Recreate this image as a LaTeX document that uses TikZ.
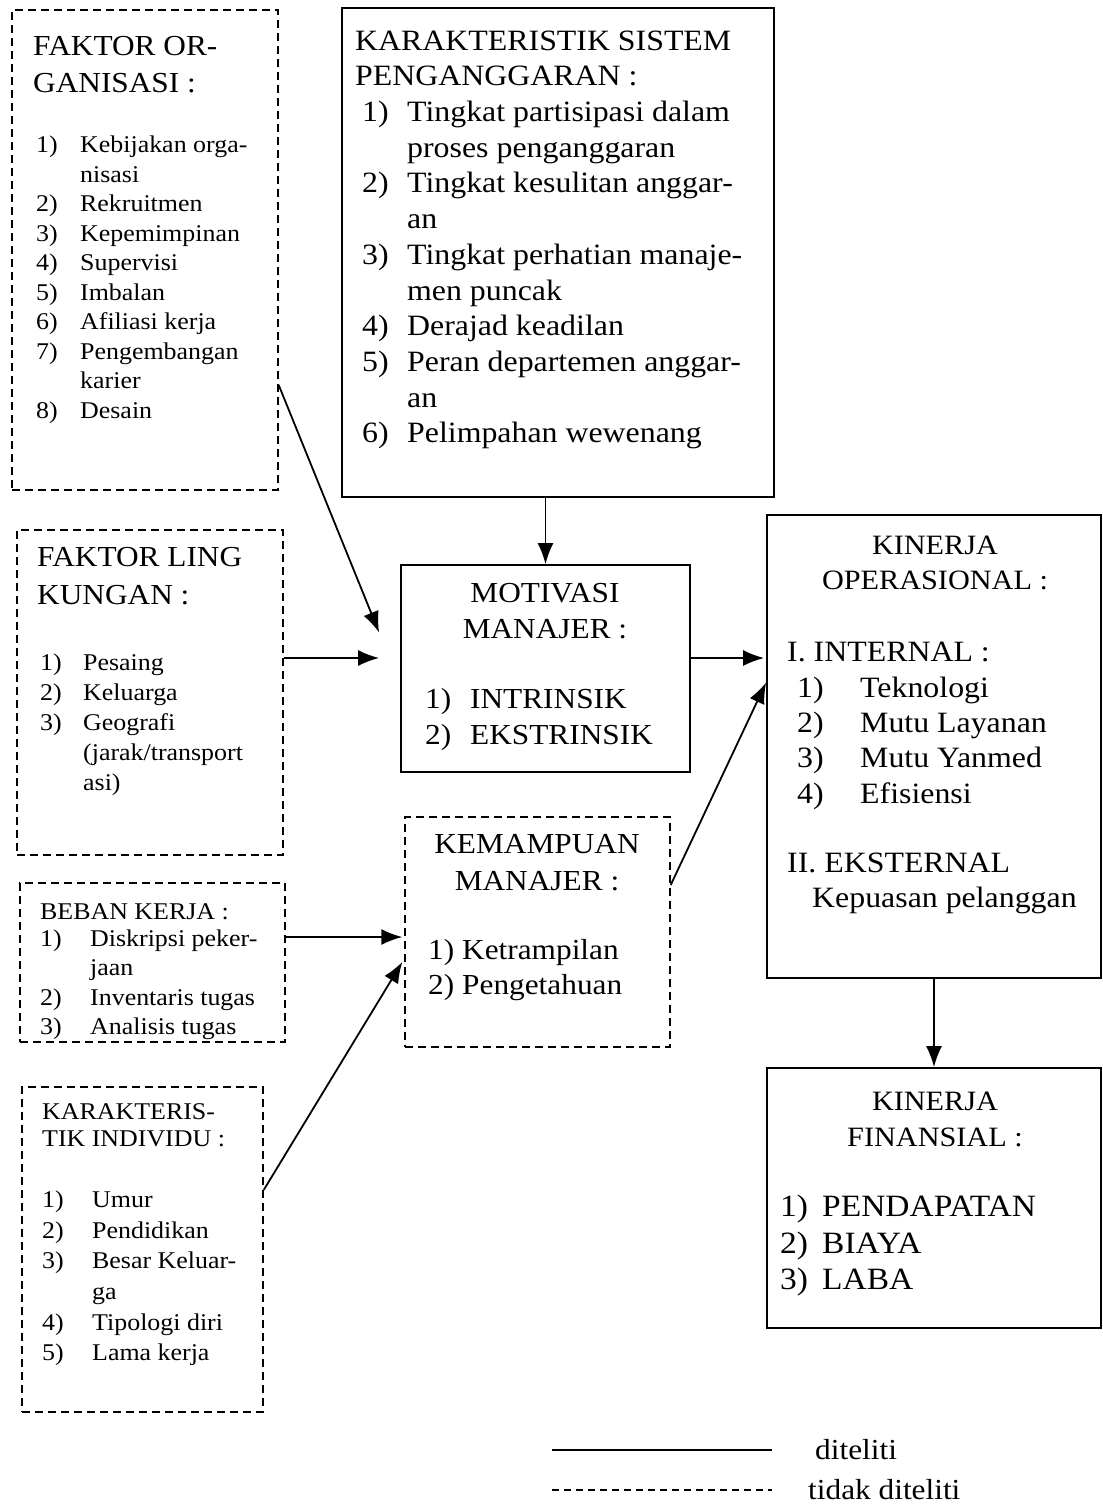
\documentclass[tikz,border=0pt]{standalone}
\usepackage{fontspec}
\setmainfont[FakeStretch=1.08]{Liberation Serif}
\usetikzlibrary{arrows.meta,calc}
\newcommand\bigf{\fontsize{29}{36}\selectfont}
\newcommand\smallf{\fontsize{24}{29.5}\selectfont}
\newcommand\nb[2]{\makebox[#1][l]{#2}}
\tikzset{
  solidbox/.style={draw, line width=1.8pt, rectangle, inner sep=0pt},
  dashbox/.style={draw, line width=1.4pt, dash pattern=on 8pt off 5pt, rectangle, inner sep=0pt},
  txt/.style={anchor=north west, inner sep=0pt, align=left},
  ctxt/.style={anchor=north, inner sep=0pt, align=center},
  arr/.style={line width=1.8pt, -{Latex[length=21pt,width=16pt]}}
}
\begin{document}
\begin{tikzpicture}[x=1pt,y=-1pt]
\useasboundingbox (0,0) rectangle (1103,1508);
% boxes
\node[dashbox, minimum width=266pt, minimum height=480pt] (org) at (145,250) {};
\node[dashbox, minimum width=266pt, minimum height=325pt] (ling) at (150,692.5) {};
\node[dashbox, minimum width=265pt, minimum height=159pt] (beban) at (152.5,962.5) {};
\node[dashbox, minimum width=241pt, minimum height=325pt] (indiv) at (142.5,1249.5) {};
\node[solidbox, minimum width=432pt, minimum height=489pt] (sys) at (558,252.5) {};
\node[solidbox, minimum width=289pt, minimum height=207pt] (mot) at (545.5,668.5) {};
\node[dashbox, minimum width=265pt, minimum height=230pt] (kem) at (537.5,932) {};
\node[solidbox, minimum width=334pt, minimum height=463pt] (op) at (934,746.5) {};
\node[solidbox, minimum width=334pt, minimum height=260pt] (fin) at (934,1198) {};
% texts
\node[txt, font=\fontsize{29}{37}\selectfont] (orgH) at (33,29) {\strut FAKTOR OR-\\GANISASI :};
\node[txt, font=\smallf] (orgL) at (36,132) {\strut\nb{44pt}{1)}Kebijakan orga-\\
\nb{44pt}{}nisasi\\
\nb{44pt}{2)}Rekruitmen\\
\nb{44pt}{3)}Kepemimpinan\\
\nb{44pt}{4)}Supervisi\\
\nb{44pt}{5)}Imbalan\\
\nb{44pt}{6)}Afiliasi kerja\\
\nb{44pt}{7)}Pengembangan\\
\nb{44pt}{}karier\\
\nb{44pt}{8)}Desain};
\node[txt, font=\fontsize{29.5}{35.7}\selectfont] (sysT) at (355,25) {\strut KARAKTERISTIK SISTEM\\
PENGANGGARAN :\\
\hspace*{7pt}\nb{45pt}{1)}Tingkat partisipasi dalam\\
\hspace*{52pt}proses penganggaran\\
\hspace*{7pt}\nb{45pt}{2)}Tingkat kesulitan anggar-\\
\hspace*{52pt}an\\
\hspace*{7pt}\nb{45pt}{3)}Tingkat perhatian manaje-\\
\hspace*{52pt}men puncak\\
\hspace*{7pt}\nb{45pt}{4)}Derajad keadilan\\
\hspace*{7pt}\nb{45pt}{5)}Peran departemen anggar-\\
\hspace*{52pt}an\\
\hspace*{7pt}\nb{45pt}{6)}Pelimpahan wewenang};
\node[ctxt, font=\bigf] (motH) at (545,577) {\strut MOTIVASI\\MANAJER :};
\node[txt, font=\bigf] (motL) at (425,683) {\strut\nb{45pt}{1)}INTRINSIK\\\nb{45pt}{2)}EKSTRINSIK};
\node[ctxt, font=\fontsize{29}{37}\selectfont] (kemH) at (537,827) {\strut KEMAMPUAN\\MANAJER :};
\node[txt, font=\fontsize{29}{35}\selectfont] (kemL) at (428,935) {\strut\nb{34pt}{1)}Ketrampilan\\\nb{34pt}{2)}Pengetahuan};
\node[txt, font=\fontsize{29}{38}\selectfont] (lingH) at (37,540) {\strut FAKTOR LING\\KUNGAN :};
\node[txt, font=\fontsize{24}{30}\selectfont] (lingL) at (40,649) {\strut\nb{43pt}{1)}Pesaing\\
\nb{43pt}{2)}Keluarga\\
\nb{43pt}{3)}Geografi\\
\nb{43pt}{}(jarak/transport\\
\nb{43pt}{}asi)};
\node[txt, font=\smallf] (bebanT) at (40,899) {\strut BEBAN KERJA :\\[-3pt]
\nb{50pt}{1)}Diskripsi peker-\\
\nb{50pt}{}jaan\\
\nb{50pt}{2)}Inventaris tugas\\
\nb{50pt}{3)}Analisis tugas};
\node[txt, font=\fontsize{24}{27}\selectfont] (indivH) at (42,1100) {\strut KARAKTERIS-\\TIK INDIVIDU :};
\node[txt, font=\fontsize{24}{30.6}\selectfont] (indivL) at (42,1186) {\strut\nb{50pt}{1)}Umur\\
\nb{50pt}{2)}Pendidikan\\
\nb{50pt}{3)}Besar Keluar-\\
\nb{50pt}{}ga\\
\nb{50pt}{4)}Tipologi diri\\
\nb{50pt}{5)}Lama kerja};
\node[ctxt, font=\fontsize{28}{35}\selectfont] (opH) at (935,530) {\strut KINERJA\\OPERASIONAL :};
\node[txt, font=\fontsize{29.5}{35.3}\selectfont] (opL) at (787,637) {\strut I. INTERNAL :\\
\hspace*{10pt}\nb{63pt}{1)}Teknologi\\
\hspace*{10pt}\nb{63pt}{2)}Mutu Layanan\\
\hspace*{10pt}\nb{63pt}{3)}Mutu Yanmed\\
\hspace*{10pt}\nb{63pt}{4)}Efisiensi\\[34pt]
II. EKSTERNAL\\
\hspace*{25pt}Kepuasan pelanggan};
\node[ctxt, font=\fontsize{28}{36}\selectfont] (finH) at (935,1085) {\strut KINERJA\\FINANSIAL :};
\node[txt, font=\fontsize{31}{36.5}\selectfont] (finL) at (780,1191) {\strut\nb{42pt}{1)}PENDAPATAN\\
\nb{42pt}{2)}BIAYA\\
\nb{42pt}{3)}LABA};
% arrows
\draw[arr] (mot.north |- sys.south) -- (mot.north);
\draw[arr] (op.south) -- (fin.north);
\draw[arr] ($(org.east)+(0,135)$) -- ($(mot.west)+(-21,-36)$);
\draw[arr] ($(ling.east)+(0,-34.5)$) -- ($(mot.west)+(-21,-10.5)$);
\draw[arr] ($(mot.east)+(0,-10.5)$) -- ($(op.west)+(-2,-88.5)$);
\draw[arr] ($(kem.east)+(0,-47)$) -- ($(op.west)+(0,-64)$);
\draw[arr] ($(beban.east)+(0,-25.5)$) -- ($(kem.west)+(-2,5)$);
\draw[arr] ($(indiv.east)+(0,-59.5)$) -- ($(kem.west)+(-2,30)$);
% legend
\coordinate (l1a) at (552,1450);
\coordinate (l1b) at (772,1450);
\coordinate (l2a) at (552,1490);
\coordinate (l2b) at (772,1490);
\draw[line width=1.8pt] (l1a) -- (l1b);
\draw[line width=1.4pt, dash pattern=on 7pt off 5pt] (l2a) -- (l2b);
\node[anchor=west, inner sep=0pt, font=\bigf] (lg1) at (815,1450) {diteliti};
\node[anchor=west, inner sep=0pt, font=\bigf] (lg2) at (808,1490) {tidak diteliti};
\end{tikzpicture}
\end{document}
